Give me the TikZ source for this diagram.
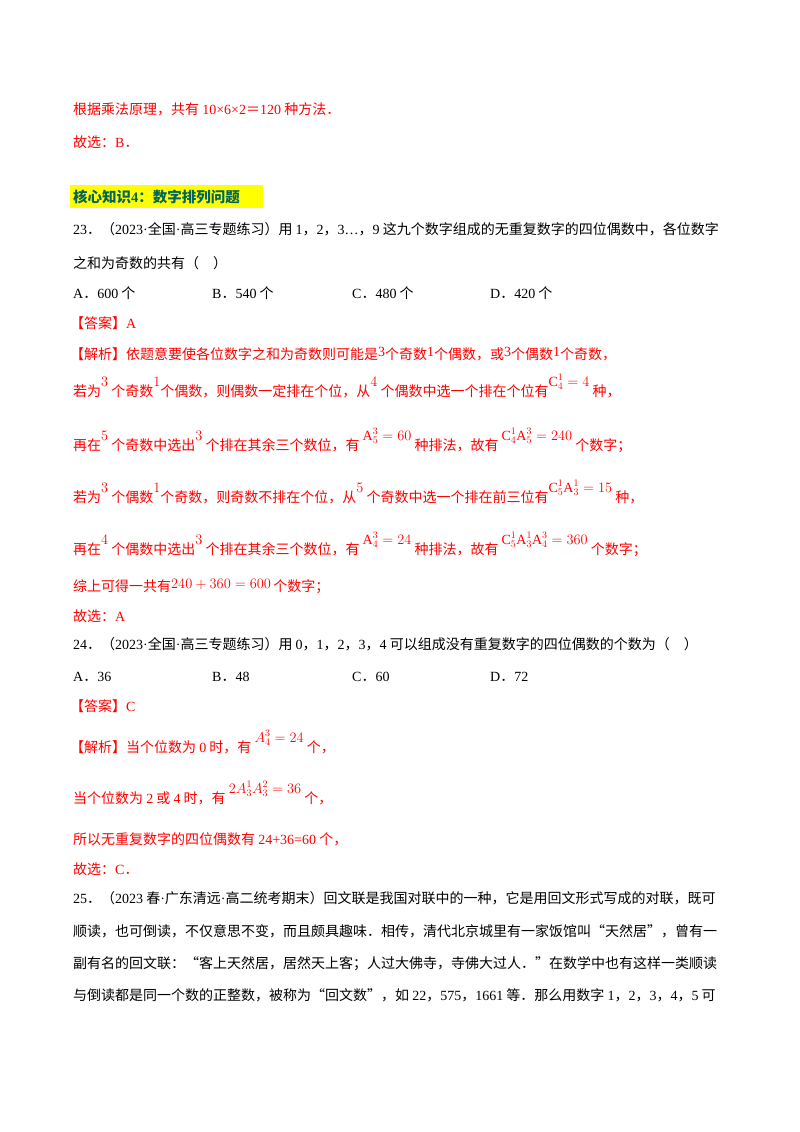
\documentclass[tikz,border=0pt]{standalone}
\usepackage{fontspec}
\setmainfont{Liberation Serif}
\newfontfamily\cjk{Noto Sans CJK SC}
\definecolor{myred}{RGB}{255,0,0}
\definecolor{hdr}{RGB}{0,100,90}
\definecolor{hl}{RGB}{255,255,0}
\newcommand{\up}[1]{\raisebox{10pt}{\fontsize{14}{14}\selectfont$#1$}}
\newcommand{\sm}[1]{\raisebox{3pt}{\fontsize{14}{14}\selectfont #1}}
\newcommand{\dt}{{\rmfamily\textperiodcentered}}
\begin{document}
\begin{tikzpicture}[x=1pt,y=-1pt,
  ln/.style={anchor=base west,inner sep=0pt,font=\fontsize{14}{16}\selectfont\cjk},
  rl/.style={ln,text=myred}]
\useasboundingbox[fill=white] (0,0) rectangle (800,1132);
\node[rl] (l1) at (73,114) {根据乘法原理，共有 {\rmfamily 10×6×2}＝{\rmfamily 120} 种方法．};
\node[rl] (l2) at (73,147) {故选：{\rmfamily B}．};
\fill[hl] (70,185) rectangle (263,208);
\node[ln,text=hdr,font=\fontsize{14.5}{16}\selectfont\cjk\bfseries] (h) at (73,202) {核心知识{\rmfamily 4}：数字排列问题};
\node[ln] (q23) at (73,234) {{\rmfamily 23}．（{\rmfamily 2023}\dt 全国\dt 高三专题练习）用 {\rmfamily 1}，{\rmfamily 2}，{\rmfamily 3…}，{\rmfamily 9} 这九个数字组成的无重复数字的四位偶数中，各位数字};
\node[ln] (q23b) at (73,268) {之和为奇数的共有（\quad）};
\node[ln] (a1) at (73,298) {{\rmfamily A}．{\rmfamily 600} 个};
\node[ln] (b1) at (212,298) {{\rmfamily B}．{\rmfamily 540} 个};
\node[ln] (c1) at (352,298) {{\rmfamily C}．{\rmfamily 480} 个};
\node[ln] (d1) at (490,298) {{\rmfamily D}．{\rmfamily 420} 个};
\node[rl] (ans1) at (70,328) {【答案】{\rmfamily A}};
\node[rl] (j1) at (70,359) {【解析】依题意要使各位数字之和为奇数则可能是{\rmfamily\sm{3}}个奇数{\rmfamily\sm{1}}个偶数，或{\rmfamily\sm{3}}个偶数{\rmfamily\sm{1}}个奇数，};
\node[rl] (j2) at (73,396) {若为\up{3} 个奇数\up{1}个偶数，则偶数一定排在个位，从\up{4} 个偶数中选一个排在个位有\up{\mathrm{C}_4^1=4}\ 种，};
\node[rl] (j3) at (73,450) {再在\up{5} 个奇数中选出\up{3} 个排在其余三个数位，有\ \up{\mathrm{A}_5^3=60}\ 种排法，故有\ \up{\mathrm{C}_4^1\mathrm{A}_5^3=240}\ 个数字；};
\node[rl] (j4) at (73,502) {若为\up{3} 个偶数\up{1}个奇数，则奇数不排在个位，从\up{5} 个奇数中选一个排在前三位有\up{\mathrm{C}_5^1\mathrm{A}_3^1=15}\ 种，};
\node[rl] (j5) at (73,554) {再在\up{4} 个偶数中选出\up{3} 个排在其余三个数位，有\ \up{\mathrm{A}_4^3=24}\ 种排法，故有\ \up{\mathrm{C}_5^1\mathrm{A}_3^1\mathrm{A}_4^3=360}\ 个数字；};
\node[rl] (j6) at (73,591) {综上可得一共有\raisebox{3pt}{\fontsize{14}{14}\selectfont$240+360=600$}\,个数字；};
\node[rl] (g1) at (73,621) {故选：{\rmfamily A}};
\node[ln] (q24) at (73,649) {{\rmfamily 24}．（{\rmfamily 2023}\dt 全国\dt 高三专题练习）用 {\rmfamily 0}，{\rmfamily 1}，{\rmfamily 2}，{\rmfamily 3}，{\rmfamily 4} 可以组成没有重复数字的四位偶数的个数为（\quad）};
\node[ln] (a2) at (73,681) {{\rmfamily A}．{\rmfamily 36}};
\node[ln] (b2) at (212,681) {{\rmfamily B}．{\rmfamily 48}};
\node[ln] (c2) at (352,681) {{\rmfamily C}．{\rmfamily 60}};
\node[ln] (d2) at (490,681) {{\rmfamily D}．{\rmfamily 72}};
\node[rl] (ans2) at (70,711) {【答案】{\rmfamily C}};
\node[rl] (j7) at (70,752) {【解析】当个位数为 {\rmfamily 0} 时，有\ \up{A_4^3=24}\ 个，};
\node[rl] (j8) at (73,803) {当个位数为 {\rmfamily 2} 或 {\rmfamily 4} 时，有\ \up{2A_3^1A_3^2=36}\ 个，};
\node[rl] (j9) at (73,844) {所以无重复数字的四位偶数有 {\rmfamily 24+36=60} 个，};
\node[rl] (g2) at (73,874) {故选：{\rmfamily C}．};
\node[ln] (q25) at (73,903) {{\rmfamily 25}．（{\rmfamily 2023} 春\dt 广东清远\dt 高二统考期末）回文联是我国对联中的一种，它是用回文形式写成的对联，既可};
\node[ln] (q25b) at (73,936) {顺读，也可倒读，不仅意思不变，而且颇具趣味．相传，清代北京城里有一家饭馆叫“天然居”，曾有一};
\node[ln] (q25c) at (73,968) {副有名的回文联：“客上天然居，居然天上客；人过大佛寺，寺佛大过人．”在数学中也有这样一类顺读};
\node[ln] (q25d) at (73,1000) {与倒读都是同一个数的正整数，被称为“回文数”，如 {\rmfamily 22}，{\rmfamily 575}，{\rmfamily 1661} 等．那么用数字 {\rmfamily 1}，{\rmfamily 2}，{\rmfamily 3}，{\rmfamily 4}，{\rmfamily 5} 可};
\end{tikzpicture}
\end{document}
